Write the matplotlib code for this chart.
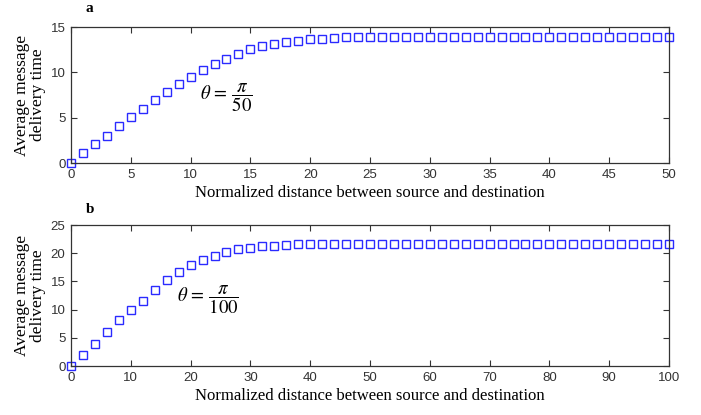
import numpy as np
import matplotlib
matplotlib.use('Agg')
import matplotlib.pyplot as plt

## Data
dist_a = np.arange(0, 51, 1)
time_a_head = [0, 1.1, 2.1, 3.0, 4.05, 5.05, 6.0, 7.0, 7.85, 8.7, 9.5, 10.25, 10.9, 11.5, 12.05,
               12.55, 12.9, 13.15, 13.3, 13.5, 13.65, 13.72, 13.75, 13.85]
time_a = time_a_head + [13.88] * (len(dist_a) - len(time_a_head))

dist_b = np.arange(0, 101, 2)
time_b_head = [0, 2.0, 3.9, 6.0, 8.1, 9.9, 11.6, 13.4, 15.2, 16.7, 17.85, 18.85, 19.55, 20.25,
               20.8, 21.0, 21.3, 21.3, 21.5]
time_b = time_b_head + [21.55] * (len(dist_b) - len(time_b_head))

plt.rcParams['mathtext.fontset'] = 'stix'

fig = plt.figure(figsize=(7.01, 4.15), dpi=100)
W, H = 701, 415

def style_axes(ax):
    for s in ax.spines.values():
        s.set_color('#333333')
        s.set_linewidth(0.9)
    ax.tick_params(direction='in', top=True, right=True, length=4, width=0.8,
                   colors='#333333', labelsize=9.5, pad=4,
                   labelfontfamily='Liberation Sans')
    ax.set_xlabel('Normalized distance between source and destination',
                  fontfamily='Liberation Serif', fontsize=12, labelpad=3)
    ax.set_ylabel('Average message\ndelivery time', fontfamily='Liberation Serif',
                  fontsize=12.5, labelpad=3, linespacing=1.0)

## Panel a
ax1 = fig.add_axes([71 / W, 1 - 163 / H, 598 / W, 136 / H])
ax1.plot(dist_a, time_a, 's', mfc='none', mec='#2a2aff', ms=5.5, mew=1.0, clip_on=False)
ax1.set_xlim(0, 50)
ax1.set_ylim(0, 15)
ax1.set_xticks(np.arange(0, 51, 5))
ax1.set_yticks([0, 5, 10, 15])
style_axes(ax1)
ax1.text(10.8, 7.2, r'$\theta\,=\,\dfrac{\pi}{50}$', fontsize=13.5, va='center', ha='left')
fig.text(86 / W, 1 - 8 / H, 'a', fontfamily='Liberation Serif', fontweight='bold',
         fontsize=11, va='center')

## Panel b
ax2 = fig.add_axes([71 / W, 1 - 366 / H, 598 / W, 141 / H])
ax2.plot(dist_b, time_b, 's', mfc='none', mec='#2a2aff', ms=5.5, mew=1.0, clip_on=False)
ax2.set_xlim(0, 100)
ax2.set_ylim(0, 25)
ax2.set_xticks(np.arange(0, 101, 10))
ax2.set_yticks(np.arange(0, 26, 5))
style_axes(ax2)
ax2.text(17.7, 11.7, r'$\theta\,=\,\dfrac{\pi}{100}$', fontsize=13.5, va='center', ha='left')
fig.text(86 / W, 1 - 209 / H, 'b', fontfamily='Liberation Serif', fontweight='bold',
         fontsize=11, va='center')

fig.savefig('out.png', dpi=100)
